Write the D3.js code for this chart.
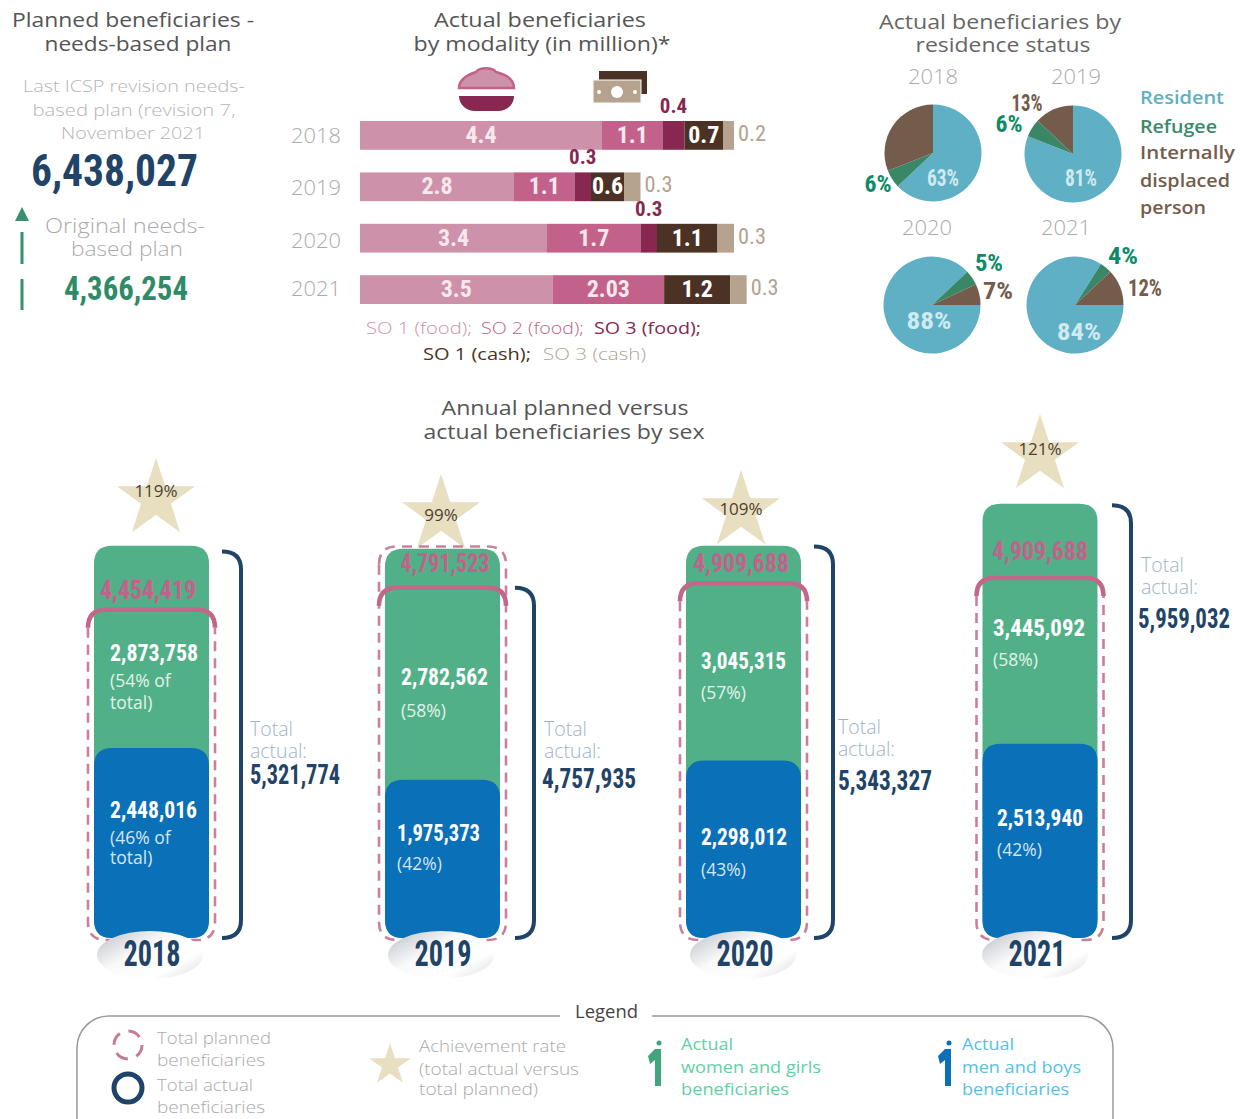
<!DOCTYPE html>
<html><head><meta charset="utf-8">
<script src="https://cdnjs.cloudflare.com/ajax/libs/d3/7.8.5/d3.min.js"></script>
<style>html,body{margin:0;padding:0;background:#fff}svg{display:block}</style>
</head><body><svg id="c" width="1247" height="1119"></svg>
<script>
// ---- data ----
const years = ["2018","2019","2020","2021"];
const so1Food = [4.4,2.8,3.4,3.5];
const so2Food = [1.1,1.1,1.7,2.03];
const so3Food = [0.4,0.3,0.3,0];
const so1Cash = [0.7,0.6,1.1,1.2];
const so3Cash = [0.2,0.3,0.3,0.3];
const modalities = ["SO 1 (food)","SO 2 (food)","SO 3 (food)","SO 1 (cash)","SO 3 (cash)"];
const resident = [63,81,88,84];
const refugee = [6,6,5,4];
const idp = [31,13,7,12];
const planned = [4454419,4791523,4909688,4909688];
const actualTotal = [5321774,4757935,5343327,5959032];
const womenGirls = [2873758,2782562,3045315,3445092];
const menBoys = [2448016,1975373,2298012,2513940];
const womenShare = ["(54% of|total)","(58%)","(57%)","(58%)"];
const menShare = ["(46% of|total)","(42%)","(43%)","(42%)"];
const achievement = [119,99,109,121];
// heights as drawn in the picture, in millions on the column scale
const drawnColumnTop = [5.33,5.29,5.33,5.90];
const drawnMenTop = [2.58,2.15,2.41,2.64];
const drawnArch = [4.46,4.76,4.82,4.89];
const drawnPlannedTop = [null,5.32,null,null];
const drawnBracketTop = [5.25,4.76,5.32,5.88];
const needsLast = 6438027, needsOriginal = 4366254;

// ---- setup ----
const svg = d3.select("#c");
const SANS = "'Open Sans','Noto Sans',sans-serif";
const NARROW = "'Liberation Sans Narrow','Roboto Condensed','Liberation Sans',sans-serif";
const fmt = d3.format(",");
const C = {so1f:"#cd92a9",so2f:"#c2628a",so3f:"#88274f",so1c:"#4c3224",so3c:"#b5a28f",
  navy:"#1f4468",green:"#52b088",blue:"#0a70b8",star:"#e8dfc0",res:"#5fb0c5",ref:"#3a8768",idp:"#735c4c",pie:"#0e8a68"};
function t(x,y,s,o={}){
  const e=svg.append("text").attr("x",x).attr("y",y).text(s)
    .attr("font-family",o.font||SANS).attr("font-size",o.size||17)
    .attr("font-weight",o.weight||400).attr("fill",o.fill||"#999")
    .attr("text-anchor",o.anchor||"start");
  if(o.ls) e.attr("letter-spacing",o.ls);
  if(o.len) e.attr("textLength",o.len).attr("lengthAdjust","spacingAndGlyphs");
  return e;
}
// condensed number: centred vertically on y
function num(x,y,s,size,fill,o={}){
  return t(x,y+size*0.35,s,Object.assign({font:NARROW,weight:700,size,fill},o));
}
const MID={anchor:"middle"};

// ---- left panel ----
t(133,27,"Planned beneficiaries -",{size:20,anchor:"middle",fill:"#555",len:242});
t(138,51,"needs-based plan",{size:20,anchor:"middle",fill:"#555",len:187});
t(134,92,"Last ICSP revision needs-",{size:17,anchor:"middle",fill:"#b5b5b5",weight:300,len:222});
t(134,116,"based plan (revision 7,",{size:17,anchor:"middle",fill:"#b5b5b5",weight:300,len:203});
t(133,139,"November 2021",{size:17,anchor:"middle",fill:"#b5b5b5",weight:300,len:144});
num(31,171,fmt(needsLast),44,C.navy,{len:167});
t(125,233,"Original needs-",{size:20,anchor:"middle",fill:"#aaa",weight:300,len:160});
t(127,256,"based plan",{size:20,anchor:"middle",fill:"#aaa",weight:300,len:112});
num(64,288,fmt(needsOriginal),34,"#2f8a68",{len:124});
svg.append("path").attr("d","M22,207L29,221L15,221Z").attr("fill","#3a8f6d");
svg.append("path").attr("d","M22,232V264M22,279V310").attr("stroke","#3a8f6d").attr("stroke-width",3).attr("fill","none");

// ---- stacked bars ----
t(540,27,"Actual beneficiaries",{size:20,anchor:"middle",fill:"#555",len:212});
t(542,51,"by modality (in million)*",{size:20,anchor:"middle",fill:"#555",len:257});
// bowl icon
svg.append("path").attr("d","M459,88C459,78 470,74 476,72C480,67 492,67 496,72C504,74 514,78 514,88Z")
  .attr("fill",C.so1f).attr("stroke",C.so2f).attr("stroke-width",2.5);
svg.append("path").attr("d","M459,96H514C514,105 506,111 498,111H475C467,111 459,105 459,96Z").attr("fill",C.so3f);
// banknote icon
svg.append("rect").attr("x",599).attr("y",71).attr("width",48).attr("height",23).attr("fill",C.so1c);
svg.append("rect").attr("x",593).attr("y",80).attr("width",48).attr("height",23).attr("fill",C.so3c).attr("stroke","#fff");
svg.append("circle").attr("cx",617).attr("cy",92).attr("r",6).attr("fill","#fff");
[599,635].forEach(x=>svg.append("circle").attr("cx",x).attr("cy",92).attr("r",2).attr("fill","#fff"));

const stackKeys=[so1Food,so2Food,so3Food,so1Cash,so3Cash];
const stackColors=[C.so1f,C.so2f,C.so3f,C.so1c,C.so3c];
const rows=years.map((y,i)=>{const r={year:y};stackKeys.forEach((a,k)=>r[modalities[k]]=a[i]);return r;});
const series=d3.stack().keys(modalities)(rows);
const xBar=d3.scaleLinear().domain([0,7]).range([360,745]);
const yBar=d3.scaleBand().domain(years).range([121,304]).paddingInner(0.44).paddingOuter(0).align(0);
svg.append("g").selectAll("g").data(series).join("g").attr("fill",(d,i)=>stackColors[i])
  .selectAll("rect").data(d=>d.map((v,i)=>({v,i}))).join("rect")
  .attr("x",d=>xBar(d.v[0])).attr("width",d=>xBar(d.v[1])-xBar(d.v[0]))
  .attr("y",d=>yBar(years[d.i])).attr("height",yBar.bandwidth());
const yAxisLabelY=[143,195,248,296];
years.forEach((y,i)=>{
  t(291,yAxisLabelY[i],y,{size:21,fill:"#aaa",weight:300,len:50});
  const cy=yBar(y)+yBar.bandwidth()/2;
  [0,1,3].forEach(k=>{
    const v=series[k][i];
    const val=stackKeys[k][i];
    num((xBar(v[0])+xBar(v[1]))/2,cy-1,String(val),24,k==3?"#fff":"#f8e8ee",MID);
  });
  // SO3 food above
  const f=series[2][i];
  if(stackKeys[2][i]>0) num((xBar(f[0])+xBar(f[1]))/2,cy-30,String(stackKeys[2][i]),21,C.so3f,MID);
  // SO3 cash right
  const c=series[4][i];
  num(xBar(c[1])+4,cy-2,String(stackKeys[4][i]),22,C.so3c,{weight:400,len:28});
});
// bar legend
[[366,334,0,106,C.so1f],[481,334,1,103,C.so2f],[594,334,2,107,C.so3f],[423,360,3,108,C.so1c],[543,360,4,103,C.so3c]]
 .forEach(([x,y,k,len,fill])=>t(x,y,modalities[k]+(k<4?";":""),{size:17,fill,len,weight:k==3||k==2?400:300}));

// ---- pies ----
t(1000,29,"Actual beneficiaries by",{size:20,anchor:"middle",fill:"#666",len:242});
t(1003,52,"residence status",{size:20,anchor:"middle",fill:"#666",len:175});
const pieCenters=[[933,153],[1073,154],[932,305],[1075,305]];
const pieStart=[0,0,Math.PI/2,Math.PI/2];
const yearLbl=[[933,84],[1076,84],[927,235],[1066,235]];
const pieR=48.5;
const arc=d3.arc().innerRadius(0).outerRadius(pieR);
const pieColors=[C.res,C.ref,C.idp];
years.forEach((y,i)=>{
  const p=d3.pie().sort(null).startAngle(pieStart[i]).endAngle(pieStart[i]+2*Math.PI)([resident[i],refugee[i],idp[i]]);
  svg.append("g").attr("transform",`translate(${pieCenters[i]})`).selectAll("path").data(p).join("path")
    .attr("d",arc).attr("fill",(d,k)=>pieColors[k]);
  t(yearLbl[i][0],yearLbl[i][1],y,{size:21,anchor:"middle",fill:"#aaa",weight:300,len:50});
});
const pieLabels=[
 [943,178,resident[0],"#cfeaf0",32],[878,184,refugee[0],C.pie,27],
 [1081,178,resident[1],"#cfeaf0",32],[1009,124,refugee[1],C.pie,27],[1027,103,idp[1],C.idp,31],
 [929,321,resident[2],"#cfeaf0",45],[989,263,refugee[2],C.pie,28],[998,291,idp[2],C.idp,30],
 [1079,332,resident[3],"#cfeaf0",44],[1123,256,refugee[3],C.pie,30],[1145,288,idp[3],C.idp,34]];
pieLabels.forEach(([x,y,v,fill,len])=>num(x,y,v+"%",24,fill,{anchor:"middle",len}));
[["Resident",104,"#5eb0c4",84],["Refugee",133,"#3a8a6a",77],["Internally",159,"#755c4c",95],["displaced",187,"#755c4c",90],["person",214,"#755c4c",66]]
 .forEach(([s,y,fill,len])=>t(1140,y,s,{size:18,weight:600,fill,len}));

// ---- columns ----
t(565,415,"Annual planned versus",{size:20,anchor:"middle",fill:"#555",len:247});
t(564,439,"actual beneficiaries by sex",{size:20,anchor:"middle",fill:"#555",len:281});
const xCol=d3.scaleOrdinal().domain(years).range([151.5,442.5,743.5,1040]);
const yCol=d3.scaleLinear().domain([0,6]).range([938,938-6*73.6]);
const colW=115;
const rx=18;
const layout=[
 {star:[156,499,491],planX:148,planY:590,wX:110,wY:653,wW:88,wS:687,mX:110,mY:810,mS:844,mW:87,totX:250,totY:736,valX:250,valY:775,valW:90,bx:222,yrX:152},
 {star:[441,515,515],planX:445,planY:563,wX:401,wY:677,wW:87,wS:717,mX:397,mY:833,mS:870,mW:83,totX:544,totY:736,valX:542,valY:779,valW:94,bx:515,yrX:443},
 {star:[741,511,509],planX:741,planY:563,wX:701,wY:661,wW:85,wS:699,mX:701,mY:837,mS:876,mW:86,totX:838,totY:734,valX:838,valY:781,valW:94,bx:814,yrX:745},
 {star:[1040,455,449],planX:1040,planY:551,wX:993,wY:628,wW:92,wS:666,mX:997,mY:818,mS:856,mW:86,totX:1141,totY:572,valX:1138,valY:619,valW:92,bx:1112,yrX:1037}];
const star=r=>d3.symbol().type(d3.symbolStar).size(r*r/0.8908130915)();
const topRound=(x,w,top,bot,r)=>`M${x},${bot}V${top+r}Q${x},${top} ${x+r},${top}H${x+w-r}Q${x+w},${top} ${x+w},${top+r}V${bot}`;
const fullRound=(x,w,top,bot,r)=>`M${x},${top+r}Q${x},${top} ${x+r},${top}H${x+w-r}Q${x+w},${top} ${x+w},${top+r}V${bot-r}Q${x+w},${bot} ${x+w-r},${bot}H${x+r}Q${x},${bot} ${x},${bot-r}Z`;
const defs=svg.append("defs");
const g=defs.append("linearGradient").attr("id","disc").attr("x1","0").attr("y1","0.2").attr("x2","1").attr("y2","1");
[["0%","#c9ccd2"],["35%","#fafafa"],["70%","#ffffff"],["100%","#d8d9dc"]].forEach(([o,c])=>g.append("stop").attr("offset",o).attr("stop-color",c));
years.forEach((y,i)=>{
  const L=layout[i], cx=xCol(y), x0=cx-colW/2, bot=yCol(0);
  svg.append("path").attr("transform",`translate(${L.star[0]},${L.star[1]})`).attr("d",star(41)).attr("fill",C.star);
  t(L.star[0],L.star[2]+6,achievement[i]+"%",{size:17,anchor:"middle",fill:"#4c4030"});
  svg.append("path").attr("d",fullRound(x0,colW,yCol(drawnColumnTop[i]),bot,rx)).attr("fill",C.green);
  svg.append("path").attr("d",fullRound(x0,colW,yCol(drawnMenTop[i]),bot,rx)).attr("fill",C.blue);
  // planned outline
  const dx=x0-6,dw=colW+12,dBot=bot+2;
  const dashTop=drawnPlannedTop[i]===null?yCol(drawnArch[i])+18:yCol(drawnPlannedTop[i]);
  const dashPath=drawnPlannedTop[i]===null
    ?`M${dx},${dashTop}V${dBot-18}Q${dx},${dBot} ${dx+18},${dBot}H${dx+dw-18}Q${dx+dw},${dBot} ${dx+dw},${dBot-18}V${dashTop}`
    :fullRound(dx,dw,dashTop,dBot,18);
  svg.append("path").attr("d",dashPath).attr("fill","none").attr("stroke","#cb7f9b").attr("stroke-width",2.6).attr("stroke-dasharray","10 7");
  svg.append("path").attr("d",topRound(dx,dw,yCol(drawnArch[i]),yCol(drawnArch[i])+16,18)).attr("fill","none").attr("stroke","#c2678a").attr("stroke-width",4.5);
  // bracket on total actual
  const bt=yCol(drawnBracketTop[i]);
  svg.append("path").attr("d",`M${L.bx},${bt}Q${L.bx+19},${bt} ${L.bx+19},${bt+18}V${bot-18}Q${L.bx+19},${bot} ${L.bx},${bot}`)
    .attr("fill","none").attr("stroke",C.navy).attr("stroke-width",4);
  // disc
  svg.append("ellipse").attr("cx",L.yrX-2).attr("cy",955).attr("rx",53).attr("ry",24).attr("fill","url(#disc)");
  num(L.yrX,953,y,37,C.navy,{anchor:"middle",len:57});
  // labels
  num(L.planX,L.planY,fmt(planned[i]),26,C.so2f,{anchor:"middle",len:i==1?89:96});
  num(L.wX,L.wY,fmt(womenGirls[i]),23,"#fff",{len:L.wW});
  womenShare[i].split("|").forEach((s,k)=>t(L.wX,L.wS+k*22,s,{size:17.5,fill:"#e2f3ea"}));
  num(L.mX,L.mY,fmt(menBoys[i]),23,"#fff",{len:L.mW});
  menShare[i].split("|").forEach((s,k)=>t(L.mX,L.mS+k*20,s,{size:17.5,fill:"#d5e6f3"}));
  t(L.totX,L.totY,"Total",{size:19.5,fill:"#9db4c8",weight:300});
  t(L.totX,L.totY+22,"actual:",{size:19.5,fill:"#9db4c8",weight:300});
  num(L.valX,L.valY,fmt(actualTotal[i]),27,C.navy,{len:L.valW});
});

// ---- legend ----
svg.append("rect").attr("x",77).attr("y",1016).attr("width",1036).attr("height",160).attr("rx",32)
  .attr("fill","none").attr("stroke","#999").attr("stroke-width",1.5);
svg.append("rect").attr("x",560).attr("y",1000).attr("width",92).attr("height",34).attr("fill","#fff");
t(606.5,1018,"Legend",{size:18,anchor:"middle",fill:"#444",len:63});
svg.append("circle").attr("cx",128).attr("cy",1045).attr("r",14).attr("fill","none").attr("stroke","#c87b97").attr("stroke-width",3).attr("stroke-dasharray","13 9");
svg.append("circle").attr("cx",128).attr("cy",1088).attr("r",14).attr("fill","none").attr("stroke",C.navy).attr("stroke-width",5);
[["Total planned",1044,114],["beneficiaries",1066,108],["Total actual",1091,96],["beneficiaries",1113,108]].forEach(([s,y,len])=>t(157,y,s,{size:17,fill:"#aaa",weight:300,len}));
svg.append("path").attr("transform","translate(390,1065)").attr("d",star(22)).attr("fill",C.star);
[["Achievement rate",1052,147],["(total actual versus",1075,160],["total planned)",1095,119]].forEach(([s,y,len])=>t(419,y,s,{size:17,fill:"#aaa",weight:300,len}));
function person(x,fill){
  svg.append("circle").attr("cx",x+4).attr("cy",1043).attr("r",2.5).attr("fill",fill);
  svg.append("path").attr("d",`M${x-7},1056L${x},1049H${x+6}V1086H${x}V1060L${x-5},1064Z`).attr("fill",fill);
}
person(655,"#3fa67e");
person(945,C.blue);
[["Actual",1050,52],["women and girls",1073,140],["beneficiaries",1095,108]].forEach(([s,y,len])=>t(681,y,s,{size:17,fill:"#5fd0a5",len}));
[["Actual",1050,52],["men and boys",1073,119],["beneficiaries",1095,107]].forEach(([s,y,len])=>t(962,y,s,{size:17,fill:"#55c0e8",len}));
</script></body></html>
